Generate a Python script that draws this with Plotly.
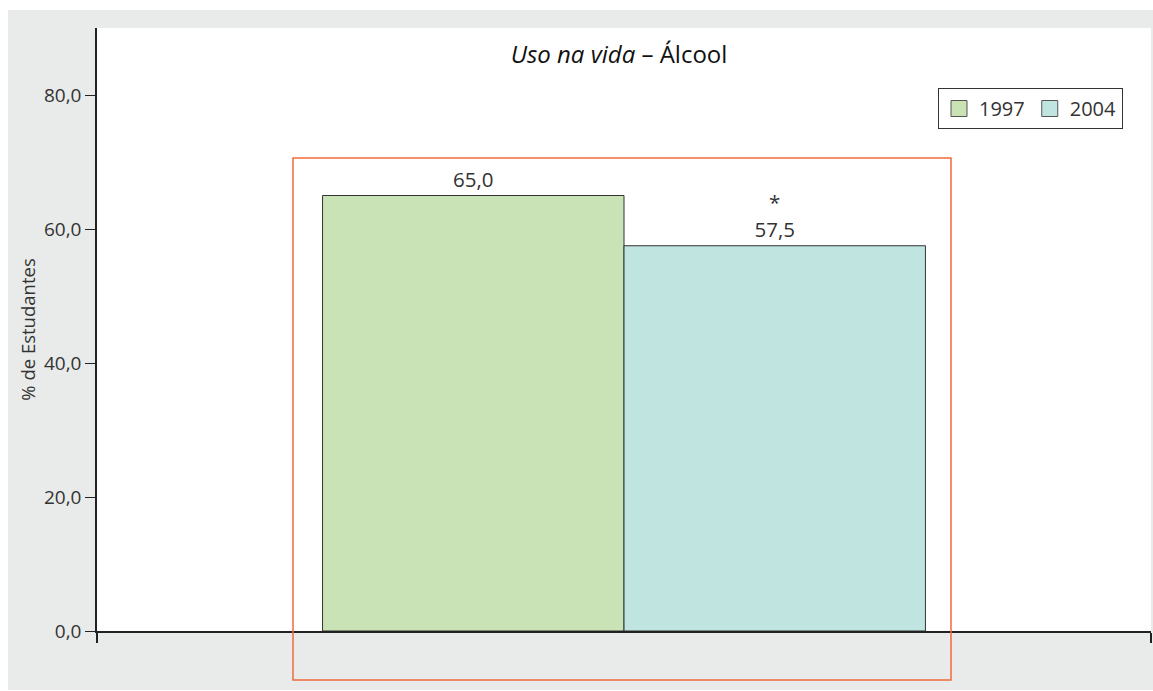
import plotly.graph_objects as go

# ---- data ----
categories = ["Uso na vida – Álcool"]
years = ["1997", "2004"]
values_1997 = [65.0]
values_2004 = [57.5]
labels_1997 = ["65,0"]
labels_2004 = ["*<br>57,5"]
y_ticks = [0, 20, 40, 60, 80]
colors = ["#c9e3b6", "#c0e4e0"]

FONT = "Open Sans"
TXT = "#333333"

fig = go.Figure()
for yr, vals, labs, col in [(years[0], values_1997, labels_1997, colors[0]),
                            (years[1], values_2004, labels_2004, colors[1])]:
    fig.add_trace(go.Bar(
        x=[0], y=vals, name=yr, text=labs, showlegend=False,
        textposition="outside", textfont=dict(size=20.5, color=TXT, family=FONT),
        marker=dict(color=col, line=dict(color="#333333", width=1)),
        cliponaxis=False, hoverinfo="skip",
    ))
# legend proxies (larger square swatches)
for yr, col in zip(years, colors):
    fig.add_trace(go.Scatter(
        x=[None], y=[None], mode="markers", name=yr,
        marker=dict(symbol="square", size=16, color=col, line=dict(color="#555555", width=1)),
    ))

W, H = 1153, 691
L, R, T, B = 97, 1151, 28, 631

def px(sx):
    return (sx - L) / (R - L)

def py(sy):
    return (B - sy) / (B - T)

shapes = [
    # white outer border strips
    dict(type="rect", xref="paper", yref="paper", x0=px(-5), x1=px(8), y0=py(700), y1=py(-5),
         fillcolor="white", line=dict(width=0), layer="above"),
    dict(type="rect", xref="paper", yref="paper", x0=px(-5), x1=px(1160), y0=py(10), y1=py(-5),
         fillcolor="white", line=dict(width=0), layer="above"),
    dict(type="rect", xref="paper", yref="paper", x0=px(-5), x1=px(1160), y0=py(700), y1=py(690),
         fillcolor="white", line=dict(width=0), layer="above"),
    # orange highlight box
    dict(type="rect", xref="paper", yref="paper", x0=px(293), x1=px(951), y0=py(680), y1=py(158),
         line=dict(color="#f26a3b", width=1.5), fillcolor="rgba(0,0,0,0)", layer="above"),
]

fig.update_layout(
    width=W, height=H,
    margin=dict(l=L, r=W - R, t=T, b=H - B, pad=0),
    paper_bgcolor="#e9ebea",
    plot_bgcolor="white",
    separators=",.",
    font=dict(family=FONT, color=TXT, size=19),
    barmode="group",
    bargap=0.428,
    bargroupgap=0,
    showlegend=True,
    title=dict(
        text="<i>Uso na vida</i> – Álcool",
        x=px(619), xref="paper", xanchor="center",
        y=1 - 55 / H, yref="container", yanchor="middle",
        font=dict(size=24, color="#111111", family=FONT),
    ),
    legend=dict(
        orientation="h",
        x=px(1123), xanchor="right",
        y=py(88), yanchor="top",
        bgcolor="white",
        bordercolor="#333333", borderwidth=1,
        font=dict(size=20, color=TXT, family=FONT),
        itemwidth=30,
    ),
    xaxis=dict(
        range=[-0.5, 0.5],
        showgrid=False, zeroline=False,
        showline=True, linecolor="#222222", linewidth=1.5,
        tickmode="array", tickvals=[-0.5, 0.5], ticktext=["", ""],
        ticks="outside", ticklen=10, tickcolor="#222222", tickwidth=1.5,
        showticklabels=False,
    ),
    yaxis=dict(
        range=[0, 90],
        showgrid=False, zeroline=False,
        showline=True, linecolor="#222222", linewidth=1.5,
        tickmode="array", tickvals=y_ticks, tickformat=".1f",
        ticks="outside", ticklen=10, tickcolor="#222222", tickwidth=1.2,
        tickfont=dict(size=19, color=TXT, family=FONT),
        title=dict(text="% de Estudantes", font=dict(size=18.5, color=TXT, family=FONT), standoff=3),
    ),
    shapes=shapes,
)

fig.write_html(
    "out.html",
    config={"displayModeBar": False},
    post_script="document.documentElement.style.margin='0';document.body.style.margin='0';"
                "document.documentElement.style.overflow='hidden';document.body.style.overflow='hidden';",
)
